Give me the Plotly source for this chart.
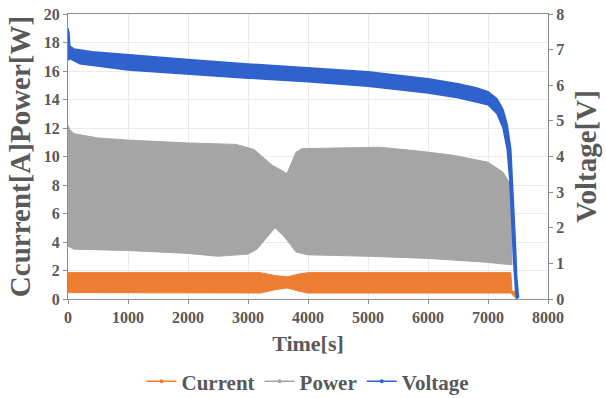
import plotly.graph_objects as go

# Envelope of the voltage trace (upper and lower edges of the oscillation band)
volt_up_t = [0, 15, 30, 100, 400, 1000, 2000, 3000, 4000, 5000, 5500, 6000, 6500, 6800, 7000, 7150, 7250, 7320, 7380, 7420, 7450, 7480, 7510]
volt_up_v = [7.6, 7.5, 7.1, 7.02, 6.94, 6.85, 6.72, 6.6, 6.5, 6.38, 6.28, 6.18, 6.04, 5.93, 5.82, 5.62, 5.32, 4.9, 4.2, 3.0, 1.8, 0.6, 0.05]
volt_lo_t = [0, 30, 200, 1000, 2000, 3000, 4000, 5000, 6000, 6500, 7000, 7150, 7250, 7320, 7360, 7400, 7430, 7460, 7480]
volt_lo_v = [6.7, 6.75, 6.6, 6.43, 6.32, 6.2, 6.1, 5.97, 5.78, 5.65, 5.45, 5.2, 4.8, 4.2, 3.4, 2.2, 1.0, 0.2, 0.02]

# Envelope of the power trace
pow_up_t = [0, 30, 100, 500, 1000, 2000, 2800, 3100, 3400, 3650, 3800, 3900, 4500, 5200, 5800, 6400, 7000, 7250, 7350, 7390, 7400]
pow_up_p = [12.2, 11.9, 11.6, 11.3, 11.15, 10.95, 10.85, 10.5, 9.4, 8.8, 10.3, 10.55, 10.6, 10.65, 10.4, 10.1, 9.6, 8.9, 8.2, 7.3, 2.4]
pow_lo_t = [0, 100, 1000, 2000, 2500, 3000, 3150, 3450, 3600, 3800, 4000, 5000, 5500, 6000, 6900, 7300, 7400]
pow_lo_p = [3.7, 3.5, 3.4, 3.2, 3.0, 3.15, 3.5, 5.0, 4.4, 3.3, 3.1, 3.0, 2.95, 2.85, 2.6, 2.45, 2.4]

# Envelope of the current trace
cur_up_t = [0, 3200, 3450, 3650, 3850, 4000, 7380, 7400, 7460, 7470]
cur_up_i = [1.85, 1.85, 1.65, 1.55, 1.75, 1.85, 1.85, 0.55, 0.5, 0.05]
cur_lo_t = [0, 3200, 3450, 3650, 3850, 4000, 7380, 7470]
cur_lo_i = [0.45, 0.42, 0.65, 0.78, 0.55, 0.42, 0.42, 0.02]

series_names = ["Current", "Power", "Voltage"]
colors = {"Current": "#ED7D31", "Power": "#A5A5A5", "Voltage": "#2F62CC"}

x_ticks = [0, 1000, 2000, 3000, 4000, 5000, 6000, 7000, 8000]

FONT = "Liberation Serif"
TXT = "#595959"
AX = "#8C8C8C"


def band(t_up, v_up, t_lo, v_lo):
    """Closed polygon: upper edge forward, lower edge backward."""
    return list(t_up) + list(reversed(t_lo)), list(v_up) + list(reversed(v_lo))


fig = go.Figure()

px_, py_ = band(pow_up_t, pow_up_p, pow_lo_t, pow_lo_p)
fig.add_trace(go.Scatter(x=px_, y=py_, fill="toself", mode="lines",
                         line=dict(color=colors["Power"], width=1),
                         fillcolor=colors["Power"], showlegend=False, hoverinfo="skip"))

cx_, cy_ = band(cur_up_t, cur_up_i, cur_lo_t, cur_lo_i)
fig.add_trace(go.Scatter(x=cx_, y=cy_, fill="toself", mode="lines",
                         line=dict(color=colors["Current"], width=1),
                         fillcolor=colors["Current"], showlegend=False, hoverinfo="skip"))

vx_, vy_ = band(volt_up_t, volt_up_v, volt_lo_t, volt_lo_v)
fig.add_trace(go.Scatter(x=vx_, y=vy_, fill="toself", mode="lines", yaxis="y2",
                         line=dict(color=colors["Voltage"], width=1.5),
                         fillcolor=colors["Voltage"], showlegend=False, hoverinfo="skip"))

# Legend entries
for name in series_names:
    fig.add_trace(go.Scatter(x=[None], y=[None], mode="lines+markers", name=name,
                             line=dict(color=colors[name], width=1.5),
                             marker=dict(color=colors[name], size=4)))

fig.update_layout(
    width=606, height=398,
    margin=dict(l=68, r=58, t=14, b=99, autoexpand=False),
    paper_bgcolor="white", plot_bgcolor="white",
    font=dict(family=FONT, color=TXT),
    xaxis=dict(range=[0, 8000], tickvals=x_ticks, showgrid=True, gridcolor="#EBEBEB",
               showline=True, linecolor=AX, mirror=True, ticks="outside", ticklen=4,
               tickcolor=AX, zeroline=False,
               tickfont=dict(family=FONT, size=16, color=TXT, weight="bold"),
               title=dict(text="Time[s]", standoff=10,
                          font=dict(family=FONT, size=22, color=TXT, weight="bold"))),
    yaxis=dict(range=[0, 20], dtick=2, showgrid=True, gridcolor="#EBEBEB",
               showline=True, linecolor=AX, ticks="outside", ticklen=4, tickcolor=AX,
               zeroline=False,
               tickfont=dict(family=FONT, size=16, color=TXT, weight="bold"),
               title=dict(text="Ccurrent[A]Power[W]", standoff=4,
                          font=dict(family=FONT, size=29, color=TXT, weight="bold"))),
    yaxis2=dict(range=[0, 8], dtick=1, overlaying="y", side="right", showgrid=False,
                showline=True, linecolor=AX, ticks="outside", ticklen=4, tickcolor=AX,
                zeroline=False,
                tickfont=dict(family=FONT, size=16, color=TXT, weight="bold"),
                title=dict(text="Voltage[V]", standoff=12,
                           font=dict(family=FONT, size=29, color=TXT, weight="bold"))),
    legend=dict(orientation="h", x=0.5, xanchor="center", y=-0.29, yanchor="middle",
                font=dict(family=FONT, size=21, color=TXT, weight="bold"),
                itemwidth=30, tracegroupgap=0, bgcolor="rgba(0,0,0,0)"),
)

fig.write_html("out.html")
